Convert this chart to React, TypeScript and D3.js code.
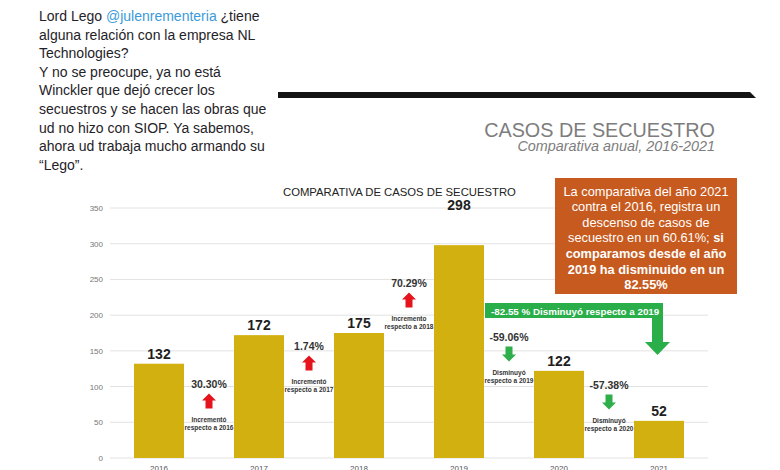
import React from 'react';
import * as d3 from 'd3';

const years = ['2016', '2017', '2018', '2019', '2020', '2021'];
const cases = [132, 172, 175, 298, 122, 52];
const yTicks = [0, 50, 100, 150, 200, 250, 300, 350];
const changeLabels = ['30.30%', '1.74%', '70.29%', '-59.06%', '-57.38%'];
const changeDirections = ['up', 'up', 'up', 'down', 'down'];
const changeCaptions = [
  ['Incrementó', 'respecto a 2016'],
  ['Incrementó', 'respecto a 2017'],
  ['Incremento', 'respecto a 2018'],
  ['Disminuyó', 'respecto a 2019'],
  ['Disminuyó', 'respecto a 2020'],
];
const bannerText = '-82.55 % Disminuyó respecto a 2019';
const chartTitle = 'COMPARATIVA DE CASOS DE SECUESTRO';
const headerTitle = 'CASOS DE SECUESTRO';
const headerSubtitle = 'Comparativa anual, 2016-2021';
const tweetHandle = '@julenrementeria';
const tweetLines = [
  ['Lord Lego ', '@', ' ¿tiene'],
  ['alguna relación con la empresa NL'],
  ['Technologies?'],
  ['Y no se preocupe, ya no está'],
  ['Winckler que dejó crecer los'],
  ['secuestros y se hacen las obras que'],
  ['ud no hizo con SIOP. Ya sabemos,'],
  ['ahora ud trabaja mucho armando su'],
  ['“Lego”.'],
];
const boxLines: [string, string][] = [
  ['La comparativa del año 2021', ''],
  ['contra el 2016, registra un', ''],
  ['descenso de casos de', ''],
  ['secuestro en un 60.61%; ', 'si'],
  ['', 'comparamos desde el año'],
  ['', '2019 ha disminuido en un'],
  ['', '82.55%'],
];

// layout (pixels)
const annotY = [384, 346, 283, 337, 385];
const FONT = "'Liberation Sans', Arial, Helvetica, sans-serif";

function blockArrow(cx: number, cy: number, dir: string, w = 14, h = 15, sw = 7) {
  const s = dir === 'up' ? 1 : -1;
  const top = cy - s * h / 2;
  const mid = cy - s * 0.5;
  const bot = cy + s * h / 2;
  const pts = [
    [cx, top], [cx + w / 2, mid], [cx + sw / 2, mid], [cx + sw / 2, bot],
    [cx - sw / 2, bot], [cx - sw / 2, mid], [cx - w / 2, mid],
  ];
  return pts.map((p) => p.join(',')).join(' ');
}

export default function App() {
  const x = d3.scaleBand<string>().domain(years).range([109, 709]).paddingInner(0.5).paddingOuter(0.25);
  const y = d3.scaleLinear().domain([0, 350]).range([458, 208]);
  const bw = x.bandwidth();
  const gold = '#d2b00f';

  return (
    <svg width={780} height={470} style={{ position: 'absolute', left: 0, top: 0, background: '#fff' }} fontFamily={FONT}>
      <rect x={0} y={0} width={780} height={470} fill="#fff" />
      {/* tweet text */}
      {tweetLines.map((parts, i) => (
        <text key={i} x={39} y={21 + i * 18.6} fontSize={14} fill="#1f2328">
          {parts.map((p, j) =>
            p === '@' ? (
              <tspan key={j} fill="#3b9ad9">{tweetHandle}</tspan>
            ) : (
              <tspan key={j}>{p}</tspan>
            )
          )}
        </text>
      ))}

      {/* black top band */}
      <polygon points="278,92 750,92 756,98 278,98" fill="#141414" />

      {/* header */}
      <text x={715} y={136.5} textAnchor="end" fontSize={19.8} fill="#7d7d7d">{headerTitle}</text>
      <text x={715} y={151} textAnchor="end" fontSize={14.4} fontStyle="italic" fill="#7d7d7d">{headerSubtitle}</text>

      {/* chart title */}
      <text x={283} y={196} fontSize={11.3} fill="#222">{chartTitle}</text>

      {/* gridlines and y ticks */}
      {yTicks.map((t) => (
        <g key={t}>
          <line x1={110} x2={708} y1={y(t)} y2={y(t)} stroke="#e2e2e2" strokeWidth={1} />
          <text x={103} y={y(t) + 3} textAnchor="end" fontSize={8} fill="#777">{t}</text>
        </g>
      ))}

      {/* bars */}
      {years.map((yr, i) => (
        <g key={yr}>
          <rect x={x(yr)} y={y(cases[i])} width={bw} height={y(0) - y(cases[i])} fill={gold} />
          <text
            x={(x(yr) as number) + bw / 2}
            y={cases[i] === d3.max(cases) ? y(cases[i]) - 35 : y(cases[i]) - 5}
            textAnchor="middle" fontSize={14} fontWeight="bold" fill="#1e1e1e"
          >{cases[i]}</text>
          <text x={(x(yr) as number) + bw / 2} y={470.5} textAnchor="middle" fontSize={8} fill="#555">{yr}</text>
        </g>
      ))}

      {/* change annotations */}
      {changeLabels.map((lab, i) => {
        const cx = ((x(years[i]) as number) + bw + (x(years[i + 1]) as number)) / 2;
        const py = annotY[i];
        const up = changeDirections[i] === 'up';
        return (
          <g key={lab}>
            <text x={cx} y={py + 4} textAnchor="middle" fontSize={10.5} fontWeight="bold" fill="#333">{lab}</text>
            <polygon points={blockArrow(cx, py + 17, changeDirections[i])} fill={up ? '#e5141c' : '#2fae4c'} />
            <text x={cx} y={py + 37.5} textAnchor="middle" fontSize={6.5} fontWeight="bold" fill="#333">{changeCaptions[i][0]}</text>
            <text x={cx} y={py + 45.5} textAnchor="middle" fontSize={6.5} fontWeight="bold" fill="#333">{changeCaptions[i][1]}</text>
          </g>
        );
      })}

      {/* green banner with arrow */}
      <g fill="#2aae4a">
        <rect x={485} y={303} width={178} height={15} />
        <rect x={652} y={318} width={11} height={25} />
        <polygon points="645,342 670,342 657.5,355" />
      </g>
      <text x={491} y={314.5} fontSize={9.8} fontWeight="bold" fill="#fff">{bannerText}</text>

      {/* orange box */}
      <rect x={555} y={178} width={182} height={116} fill="#c75a1e" />
      {boxLines.map(([reg, bold], i) => (
        <text key={i} x={646} y={195.5 + i * 15.6} textAnchor="middle" fontSize={12.8} fill="#fff">
          {reg && <tspan>{reg}</tspan>}
          {bold && <tspan fontWeight="bold">{bold}</tspan>}
        </text>
      ))}
    </svg>
  );
}
